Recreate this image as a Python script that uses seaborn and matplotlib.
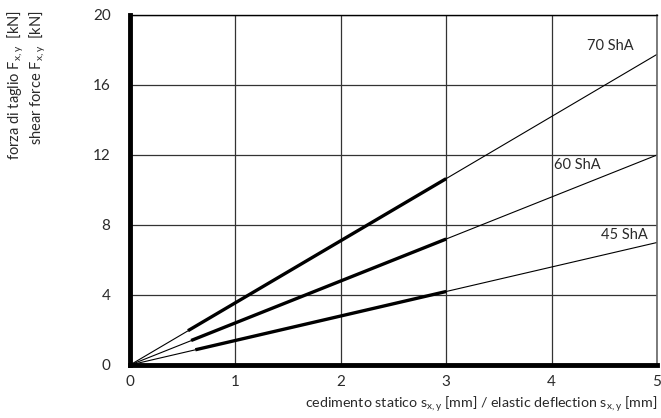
import pandas as pd
import matplotlib
matplotlib.use('Agg')
import matplotlib.pyplot as plt
import seaborn as sns

# --- data ---
hardness = ['45 ShA', '60 ShA', '70 ShA']
# thin line: from origin to the right edge
full_x = [0.0, 5.0]
full_end_y = [7.0, 12.0, 17.75]
# thick segment: working range
thick_x0 = [0.62, 0.58, 0.55]
thick_y0 = [0.87, 1.40, 1.96]
thick_x1 = [3.0, 3.0, 3.0]
thick_y1 = [4.2, 7.2, 10.65]
# label anchor points (data coords)
label_x = [4.91, 4.02, 4.78]
label_y = [7.45, 11.45, 18.2]
label_ha = ['right', 'left', 'right']

x_ticks = [0, 1, 2, 3, 4, 5]
y_ticks = [0, 4, 8, 12, 16, 20]


def main():
    thin_rows = []
    thick_rows = []
    for i, h in enumerate(hardness):
        thin_rows.append({'x': full_x[0], 'y': 0.0, 'shore': h})
        thin_rows.append({'x': full_x[1], 'y': full_end_y[i], 'shore': h})
        thick_rows.append({'x': thick_x0[i], 'y': thick_y0[i], 'shore': h})
        thick_rows.append({'x': thick_x1[i], 'y': thick_y1[i], 'shore': h})
    thin_df = pd.DataFrame(thin_rows)
    thick_df = pd.DataFrame(thick_rows)

    sns.set_style('white')
    plt.rcParams['font.family'] = ['Lato', 'DejaVu Sans']
    plt.rcParams['mathtext.fontset'] = 'custom'
    plt.rcParams['mathtext.rm'] = 'Lato'
    plt.rcParams['mathtext.it'] = 'Lato'

    fig = plt.figure(figsize=(6.61, 4.18), dpi=100)
    ax = fig.add_axes([130 / 661, 53 / 418, 527 / 661, 350 / 418])

    pal = {h: 'black' for h in hardness}
    sns.lineplot(data=thin_df, x='x', y='y', hue='shore', palette=pal,
                 linewidth=0.8, legend=False, ax=ax, zorder=3)
    sns.lineplot(data=thick_df, x='x', y='y', hue='shore', palette=pal,
                 linewidth=2.4, legend=False, ax=ax, zorder=4,
                 solid_capstyle='butt')

    for i, h in enumerate(hardness):
        ax.text(label_x[i], label_y[i], h, ha=label_ha[i], va='center',
                fontsize=10.5, color='#2a2a2a', zorder=5)

    ax.set_xlim(0, 5)
    ax.set_ylim(0, 20)
    ax.set_xticks(x_ticks)
    ax.set_yticks(y_ticks)
    ax.grid(True, color='#333333', linewidth=0.9)
    ax.set_axisbelow(True)
    ax.tick_params(length=0, labelsize=11, colors='#2a2a2a')
    ax.tick_params(axis='y', pad=14)
    ax.tick_params(axis='x', pad=7)
    ax.set_xlabel('')
    ax.set_ylabel('')

    for side in ['left', 'bottom']:
        ax.spines[side].set_linewidth(3.5)
        ax.spines[side].set_color('black')
    ax.spines['top'].set_linewidth(1.0)
    ax.spines['top'].set_color('black')
    ax.spines['right'].set_linewidth(1.2)
    ax.spines['right'].set_color('#666666')
    for s in ax.spines.values():
        s.set_zorder(6)

    fig.text(657 / 661, 1 - 404 / 418,
             'cedimento statico s$_{\\mathrm{x,y}}$ [mm] / elastic deflection s$_{\\mathrm{x,y}}$ [mm]',
             ha='right', va='center', fontsize=10.3, color='#2a2a2a')
    fig.text(16 / 661, 1 - 10 / 418, 'forza di taglio F$_{\\mathrm{x,y}}$  [kN]',
             rotation=90, ha='center', va='top', fontsize=10.5, color='#2a2a2a')
    fig.text(38 / 661, 1 - 10 / 418, 'shear force F$_{\\mathrm{x,y}}$  [kN]',
             rotation=90, ha='center', va='top', fontsize=10.5, color='#2a2a2a')

    fig.savefig('out.png', dpi=100)


if __name__ == '__main__':
    main()
